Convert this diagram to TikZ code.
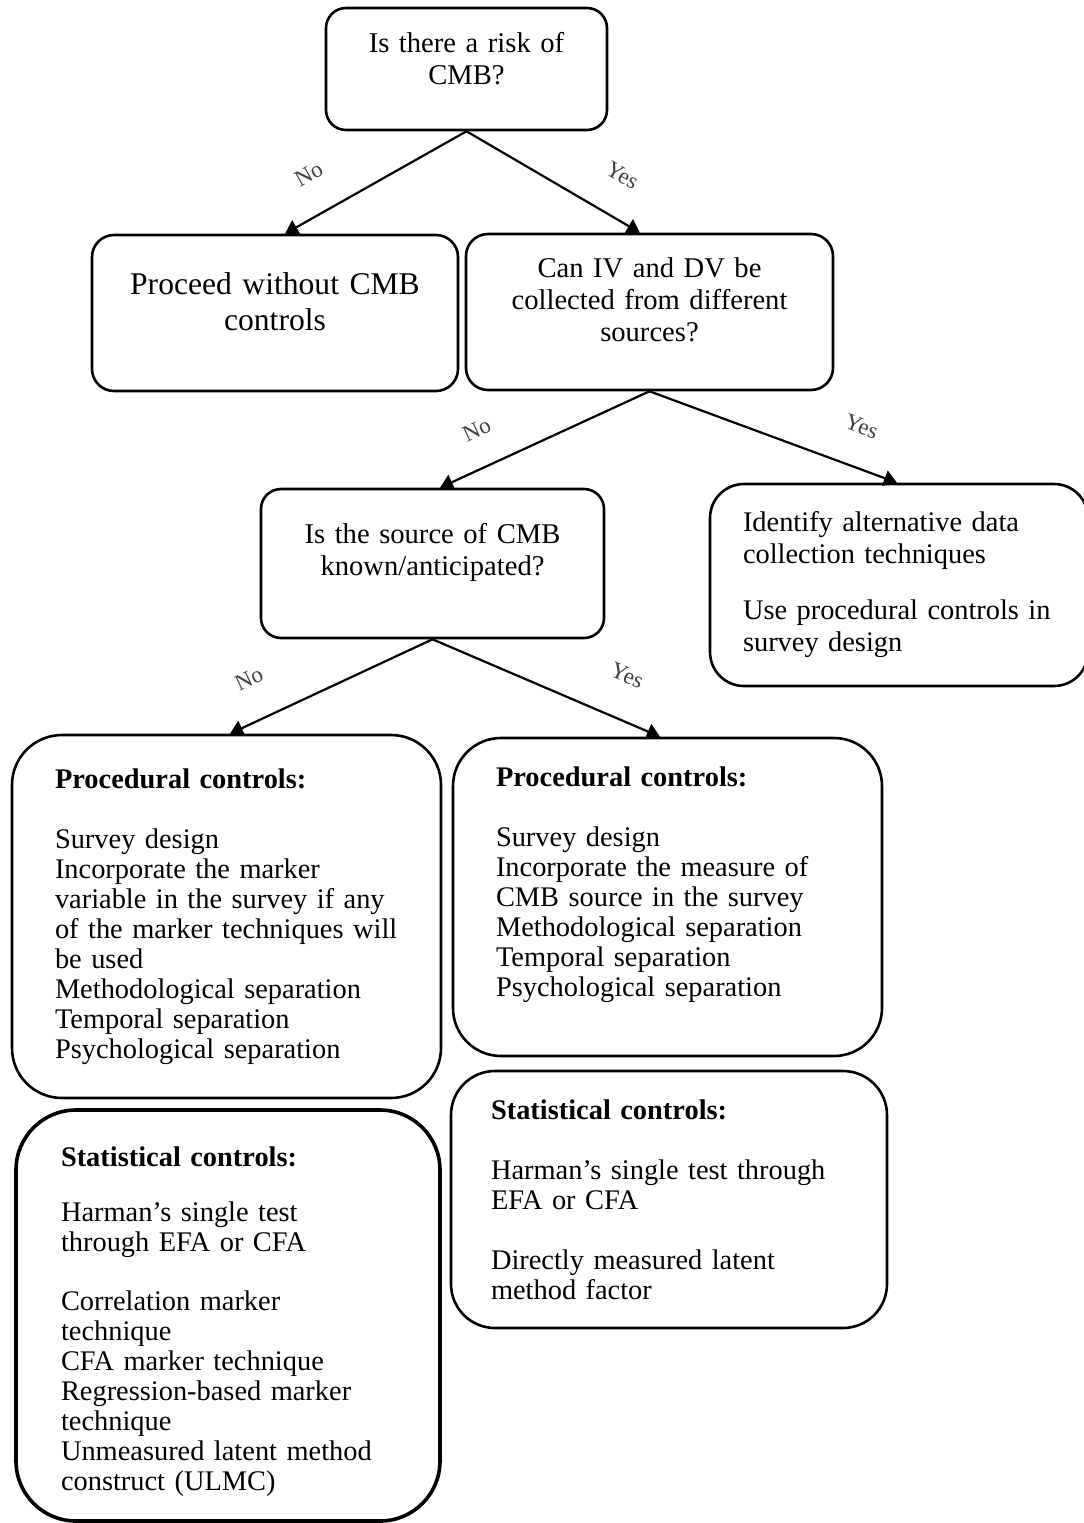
\documentclass[tikz,border=0pt]{standalone}
\usepackage{fontspec}
\setmainfont{Liberation Serif}
\usetikzlibrary{arrows.meta}
\newcommand{\botgap}[1]{\\[#1]\mbox{}}
\tikzset{
    box/.style={rectangle,draw=black,line width=2.6pt,rounded corners=22pt,
        inner ysep=0pt,font=\fontsize{28.4}{30}\selectfont},
    question/.style={box,align=center,font=\fontsize{28.6}{32}\selectfont},
    listbox/.style={box,align=left,rounded corners=50pt},
    arr/.style={-{Triangle[length=13pt,width=16pt]},line width=2.2pt},
    lbl/.style={font=\fontsize{23}{23}\selectfont,text=black!75,inner sep=0pt,text depth=0pt}
}
\begin{document}
\begin{tikzpicture}[x=1pt,y=-1pt]
    \useasboundingbox (0,0) rectangle (1084,1523);

    % decision boxes
    \node[question,minimum width=281pt,minimum height=122pt,text width=240pt,rounded corners=20pt]
        (risk) at (466.5,69) {Is there a risk of\\CMB?\botgap{-10pt}};
    \node[question,minimum width=366pt,minimum height=156pt,text width=320pt,
        font=\fontsize{31.6}{36}\selectfont]
        (proceed) at (275,313) {Proceed without CMB\\controls\botgap{-14pt}};
    \node[question,minimum width=367pt,minimum height=156pt,text width=320pt]
        (canIV) at (649.5,312) {Can IV and DV be\\collected from different\\sources?\botgap{-8pt}};
    \node[question,minimum width=343pt,minimum height=149pt,text width=300pt,rounded corners=20pt]
        (source) at (432.5,563.5) {Is the source of CMB\\known/anticipated?\botgap{-4pt}};
    \node[listbox,minimum width=378pt,minimum height=202pt,text width=312pt,inner xsep=33pt,
        rounded corners=34pt,font=\fontsize{28.4}{32}\selectfont]
        (identify) at (899,585) {Identify alternative data\\collection techniques\\[24pt]Use procedural controls in\\survey design};

    % control boxes
    \node[listbox,minimum width=429pt,minimum height=363pt,text width=343pt,inner xsep=43pt]
        (procL) at (226.5,916.5) {\textbf{Procedural controls:}\\[30pt]Survey design\\Incorporate the marker\\variable in the survey if any\\of the marker techniques will\\be used\\Methodological separation\\Temporal separation\\Psychological separation};
    \node[listbox,minimum width=429pt,minimum height=318pt,text width=343pt,inner xsep=43pt,rounded corners=48pt]
        (procR) at (667.5,897) {\textbf{Procedural controls:}\\[30pt]Survey design\\Incorporate the measure of\\CMB source in the survey\\Methodological separation\\Temporal separation\\Psychological separation\botgap{0pt}};
    \node[listbox,minimum width=424pt,minimum height=411pt,text width=334pt,inner xsep=45pt,
        rounded corners=60pt,line width=3.6pt]
        (statL) at (228,1315.5) {\textbf{Statistical controls:}\\[25pt]Harman's single test\\through EFA or CFA\\[29pt]Correlation marker\\technique\\CFA marker technique\\Regression-based marker\\technique\\Unmeasured latent method\\construct (ULMC)\botgap{-36pt}};
    \node[listbox,minimum width=436pt,minimum height=257pt,text width=356pt,inner xsep=40pt,rounded corners=44pt]
        (statR) at (669,1199.5) {\textbf{Statistical controls:}\\[30pt]Harman's single test through\\EFA or CFA\\[30pt]Directly measured latent\\method factor};

    % connectors
    \draw[arr] (risk.south) -- node[lbl,pos=0.76,sloped,above=32pt]{No} ([xshift=10pt]proceed.north);
    \draw[arr] (risk.south) -- node[lbl,pos=0.78,sloped,above=32pt]{Yes} ([xshift=-9.5pt]canIV.north);
    \draw[arr] (canIV.south) -- node[lbl,pos=0.75,sloped,above=29pt]{No} ([xshift=7.5pt]source.north);
    \draw[arr] (canIV.south) -- node[lbl,pos=0.80,sloped,above=32pt]{Yes} ([xshift=-2pt]identify.north);
    \draw[arr] (source.south) -- node[lbl,pos=0.82,sloped,above=33pt]{No} ([xshift=3.5pt]procL.north);
    \draw[arr] (source.south) -- node[lbl,pos=0.78,sloped,above=35pt]{Yes} ([xshift=-7.5pt]procR.north);
\end{tikzpicture}
\end{document}
